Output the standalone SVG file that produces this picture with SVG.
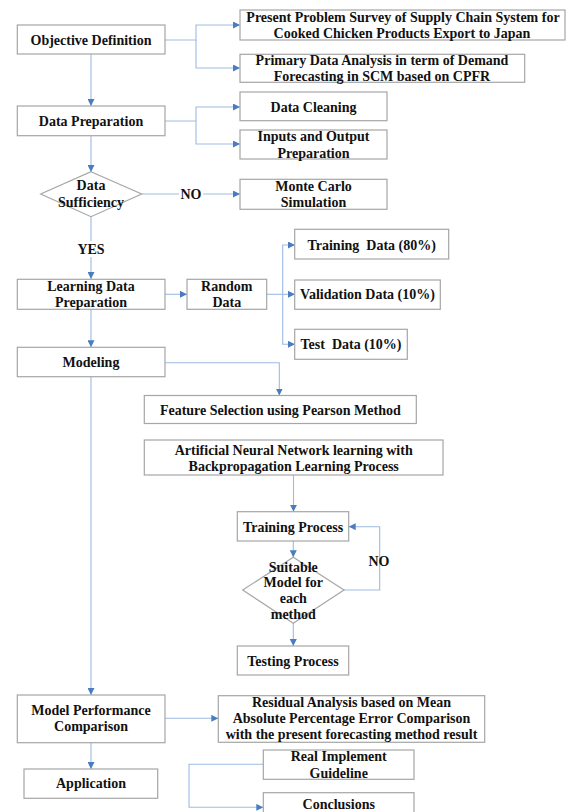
<svg xmlns="http://www.w3.org/2000/svg" width="567" height="812" viewBox="0 0 567 812">
<style>
.box{fill:#fff;stroke:#a6a6a6;stroke-width:1.2}
.t{font-family:"Liberation Serif","Times New Roman",serif;font-weight:bold;font-size:14px;fill:#111;text-anchor:middle}
.c{fill:none;stroke:#9dbbe2;stroke-width:1.1}
.a{marker-end:url(#ah)}
</style>
<defs>
<marker id="ah" viewBox="0 0 10 10" refX="10" refY="5" markerWidth="7" markerHeight="7" orient="auto" markerUnits="userSpaceOnUse">
<path d="M0,0 L10,5 L0,10 z" fill="#4a7cc0"/>
</marker>
</defs>
<rect width="567" height="812" fill="#fff"/>
<g id="connectors">
<path class="c a" d="M165,40 H196 V25 H240"/>
<path class="c a" d="M196,40 V68 H240"/>
<path class="c a" d="M91,54 V106"/>
<path class="c a" d="M165,121 H196 V107 H240"/>
<path class="c a" d="M196,121 V144 H240"/>
<path class="c a" d="M91,136 V172"/>
<path class="c" d="M141.7,194 H179"/>
<path class="c a" d="M203,194 H240"/>
<path class="c" d="M91,217 V241"/>
<path class="c a" d="M91,257 V279"/>
<path class="c a" d="M165,294.3 H187"/>
<path class="c a" d="M266.7,294.3 H295"/>
<path class="c a" d="M282.7,294.3 V245 H295"/>
<path class="c a" d="M282.7,294.3 V344.3 H295"/>
<path class="c a" d="M91,309.3 V347.3"/>
<path class="c a" d="M165,362.7 H279.3 V395.5"/>
<path class="c a" d="M91,376.7 V695"/>
<path class="c a" d="M293.5,475 V511.7"/>
<path class="c a" d="M293.3,541 V557.3"/>
<path class="c a" d="M344,590 H379.7 V526.7 H348.7"/>
<path class="c a" d="M293.3,623.3 V646"/>
<path class="c a" d="M165,718.3 H218.3"/>
<path class="c a" d="M91,742.7 V769"/>
<path class="c a" d="M263.3,764.3 H189 V807.3 H263.3"/>
</g>
<g id="objective">
<rect class="box" x="17.3" y="25" width="147.7" height="29"/>
<text class="t" x="91" y="45">Objective Definition</text>
</g>
<g id="present-problem">
<rect class="box" x="240" y="10" width="325" height="30"/>
<text class="t" x="403" y="22">Present Problem Survey of Supply Chain System for</text>
<text class="t" x="402" y="38">Cooked Chicken Products Export to Japan</text>
</g>
<g id="primary-data">
<rect class="box" x="240" y="54.3" width="284.7" height="28"/>
<text class="t" x="382" y="65">Primary Data Analysis in term of Demand</text>
<text class="t" x="382" y="81">Forecasting in SCM based on CPFR</text>
</g>
<g id="data-preparation">
<rect class="box" x="17.3" y="106" width="147.7" height="29.7"/>
<text class="t" x="91" y="125.5">Data Preparation</text>
</g>
<g id="data-cleaning">
<rect class="box" x="240" y="92" width="147" height="28.7"/>
<text class="t" x="313.5" y="111.5">Data Cleaning</text>
</g>
<g id="inputs-output">
<rect class="box" x="240" y="130" width="147" height="29"/>
<text class="t" x="313.5" y="141">Inputs and Output</text>
<text class="t" x="313.5" y="157.5">Preparation</text>
</g>
<g id="data-sufficiency">
<polygon class="box" points="91,171.7 141.7,194 91,216.7 40.7,194"/>
<text class="t" x="91" y="190">Data</text>
<text class="t" x="91" y="206.5">Sufficiency</text>
</g>
<g id="no-label-1">
<text class="t" x="191" y="199">NO</text>
</g>
<g id="monte-carlo">
<rect class="box" x="240" y="179.3" width="147" height="30"/>
<text class="t" x="313.5" y="191">Monte Carlo</text>
<text class="t" x="313.5" y="206.5">Simulation</text>
</g>
<g id="yes-label">
<text class="t" x="91" y="253.5">YES</text>
</g>
<g id="learning-data">
<rect class="box" x="17.3" y="279.3" width="147.7" height="30"/>
<text class="t" x="91" y="291">Learning Data</text>
<text class="t" x="91" y="306.5">Preparation</text>
</g>
<g id="random-data">
<rect class="box" x="187" y="279.3" width="79.7" height="30"/>
<text class="t" x="226.8" y="291">Random</text>
<text class="t" x="226.8" y="306.5">Data</text>
</g>
<g id="training-data">
<rect class="box" x="294.7" y="229.3" width="154" height="29.7"/>
<text class="t" x="371.7" y="250" xml:space="preserve">Training  Data (80%)</text>
</g>
<g id="validation-data">
<rect class="box" x="294.7" y="280" width="145.6" height="29.3"/>
<text class="t" x="367.5" y="299">Validation Data (10%)</text>
</g>
<g id="test-data">
<rect class="box" x="294.7" y="329.3" width="112.6" height="30"/>
<text class="t" x="351" y="349" xml:space="preserve">Test  Data (10%)</text>
</g>
<g id="modeling">
<rect class="box" x="17.3" y="347.3" width="147.7" height="29.4"/>
<text class="t" x="91" y="366.5">Modeling</text>
</g>
<g id="feature-selection">
<rect class="box" x="144.3" y="395.5" width="272" height="28"/>
<text class="t" x="280.3" y="415">Feature Selection using Pearson Method</text>
</g>
<g id="ann">
<rect class="box" x="144.3" y="440" width="298.7" height="35"/>
<text class="t" x="293.7" y="455">Artificial Neural Network learning with</text>
<text class="t" x="293.7" y="470.5">Backpropagation Learning Process</text>
</g>
<g id="training-process">
<rect class="box" x="237.3" y="511.7" width="111.4" height="29.3"/>
<text class="t" x="293" y="531.5">Training Process</text>
</g>
<g id="suitable-model">
<polygon class="box" points="293.3,557.3 344,590 293.3,623.3 242.7,590"/>
<text class="t" x="293.3" y="571.5">Suitable</text>
<text class="t" x="293.3" y="587.3">Model for</text>
<text class="t" x="293.3" y="603.3">each</text>
<text class="t" x="293.3" y="619.3">method</text>
</g>
<g id="no-label-2">
<text class="t" x="379" y="565.5">NO</text>
</g>
<g id="testing-process">
<rect class="box" x="237.3" y="646" width="111.4" height="29"/>
<text class="t" x="293" y="665.5">Testing Process</text>
</g>
<g id="model-performance">
<rect class="box" x="17.3" y="695" width="147.7" height="47.7"/>
<text class="t" x="91" y="715">Model Performance</text>
<text class="t" x="91" y="731">Comparison</text>
</g>
<g id="residual-analysis">
<rect class="box" x="218.3" y="695.7" width="266.4" height="46.6"/>
<text class="t" x="351.5" y="707">Residual Analysis based on Mean</text>
<text class="t" x="351.5" y="723">Absolute Percentage Error Comparison</text>
<text class="t" x="351.5" y="739">with the present forecasting method result</text>
</g>
<g id="application">
<rect class="box" x="24" y="769" width="133.7" height="29.3"/>
<text class="t" x="91" y="788">Application</text>
</g>
<g id="real-implement">
<rect class="box" x="263.3" y="750" width="150.7" height="29.3"/>
<text class="t" x="338.7" y="761">Real Implement</text>
<text class="t" x="338.7" y="777.5">Guideline</text>
</g>
<g id="conclusions">
<rect class="box" x="263.3" y="792.7" width="150.7" height="30"/>
<text class="t" x="338.7" y="808.5">Conclusions</text>
</g>
</svg>
